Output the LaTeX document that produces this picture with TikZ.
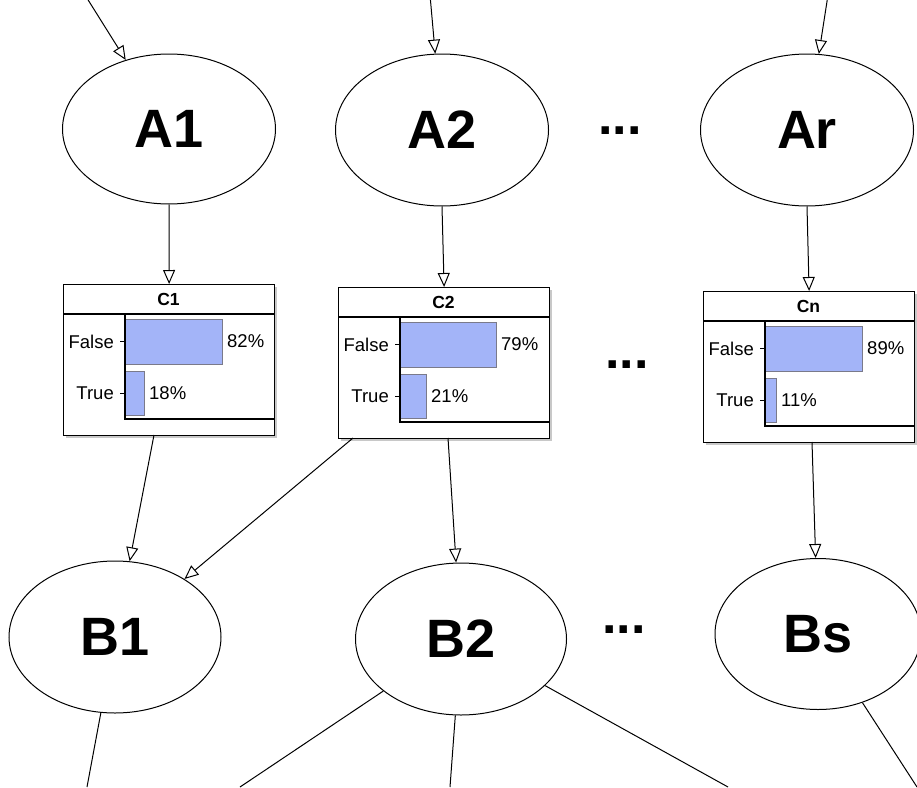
\documentclass[tikz,border=0pt]{standalone}
\usepackage{fontspec}
\setmainfont{Liberation Sans}
\usetikzlibrary{shapes.geometric,arrows.meta}
\definecolor{barblue}{HTML}{A3B4F8}
\definecolor{bargray}{HTML}{7A7A8A}
\definecolor{shadowgray}{HTML}{C8C8C8}
\tikzset{
  big/.style={ellipse, draw, line width=1pt, inner sep=0pt, fill=white,
    font=\fontsize{54}{60}\selectfont\bfseries},
  conn/.style={line width=1pt},
  arr/.style={line width=1pt, -{Triangle[open,length=14pt,width=12pt]}},
  dotsnode/.style={font=\fontsize{52}{60}\selectfont\bfseries, inner sep=0pt},
  boxframe/.style={draw, line width=1.2pt, fill=white, minimum width=211pt,
    minimum height=151pt, inner sep=0pt, anchor=north west},
  bartitle/.style={font=\fontsize{17.5}{19}\selectfont\bfseries, inner sep=0pt},
  lbl/.style={font=\fontsize{18.5}{20}\selectfont, inner sep=0pt},
  barrect/.style={fill=barblue, draw=bargray, line width=0.9pt},
  axisline/.style={line width=1.1pt},
}
\newcommand{\probbox}[8]{%
  \fill[shadowgray] (#2+3,#3+3) rectangle (#2+214,#3+154);
  \node[boxframe] (#1) at (#2,#3) {};
  \node[bartitle] (#1t) at (#2+105.5,#3+15) {#4};
  \draw[axisline] (#2,#3+30) -- (#2+211,#3+30);
  \draw[barrect] (#2+62,#3+35) rectangle (#2+62+#5,#3+80);
  \draw[barrect] (#2+62,#3+87) rectangle (#2+62+#7,#3+131);
  \draw[axisline] (#2+62,#3+30) -- (#2+62,#3+135) -- (#2+211,#3+135);
  \draw[line width=0.8pt] (#2+57,#3+57.5) -- (#2+62,#3+57.5);
  \draw[line width=0.8pt] (#2+57,#3+109) -- (#2+62,#3+109);
  \node[lbl, anchor=east] (#1f) at (#2+51,#3+57.5) {False};
  \node[lbl, anchor=east] (#1r) at (#2+51,#3+109) {True};
  \node[lbl, anchor=west] (#1fp) at (#2+67+#5,#3+57.5) {#6\%};
  \node[lbl, anchor=west] (#1rp) at (#2+67+#7,#3+109) {#8\%};
}
\begin{document}
\begin{tikzpicture}[x=1pt,y=-1pt]
\useasboundingbox (0,0) rectangle (917,787);
\clip (0,0) rectangle (917,787);

% top row
\node[big, minimum width=213pt, minimum height=150pt] (A1) at (169,129) {A1};
\node[big, minimum width=213pt, minimum height=152pt] (A2) at (442,130) {A2};
\node[big, minimum width=213pt, minimum height=152pt] (Ar) at (807,130) {Ar};
\node[dotsnode] (d1) at (620,131) {...};

\coordinate (ta1) at (85,-5);
\coordinate (ta2) at (430,-5);
\coordinate (tar) at (828,-5);
\draw[arr] (ta1) -- (A1);
\draw[arr] (ta2) -- (A2);
\draw[arr] (tar) -- (Ar);

% probability boxes
\probbox{C1}{63}{284}{C1}{97}{82}{19}{18}
\probbox{C2}{338}{287}{C2}{96}{79}{26}{21}
\probbox{Cn}{703}{291}{Cn}{97}{89}{11}{11}
\node[dotsnode] (d2) at (627,365) {...};

\draw[arr] (A1.south) -- (C1.north);
\draw[arr] (A2.south) -- (C2.north);
\draw[arr] (Ar.south) -- (Cn.north);

% bottom row
\node[big, minimum width=212pt, minimum height=152pt] (B1) at (115,637) {B1};
\node[big, minimum width=211pt, minimum height=152pt] (B2) at (461,639) {B2};
\node[big, minimum width=206pt, minimum height=151pt] (Bs) at (818,634) {Bs};
\node[dotsnode] (d3) at (624,630) {...};

\coordinate (c1o) at (154,435);
\coordinate (c2a) at (353,438);
\coordinate (c2b) at (448,438);
\coordinate (cno) at (812,442);
\draw[arr] (c1o) -- (B1);
\draw[arr] (c2a) -- (B1);
\draw[arr] (c2b) -- (B2);
\draw[arr] (cno) -- (Bs);

\coordinate (e1) at (87,787);
\coordinate (e2) at (240,787);
\coordinate (e3) at (450,787);
\coordinate (e4) at (728,787);
\coordinate (e5) at (917,787);
\draw[conn] (B1) -- (e1);
\draw[conn] (B2) -- (e2);
\draw[conn] (B2) -- (e3);
\draw[conn] (B2) -- (e4);
\draw[conn] (Bs) -- (e5);
\end{tikzpicture}
\end{document}
